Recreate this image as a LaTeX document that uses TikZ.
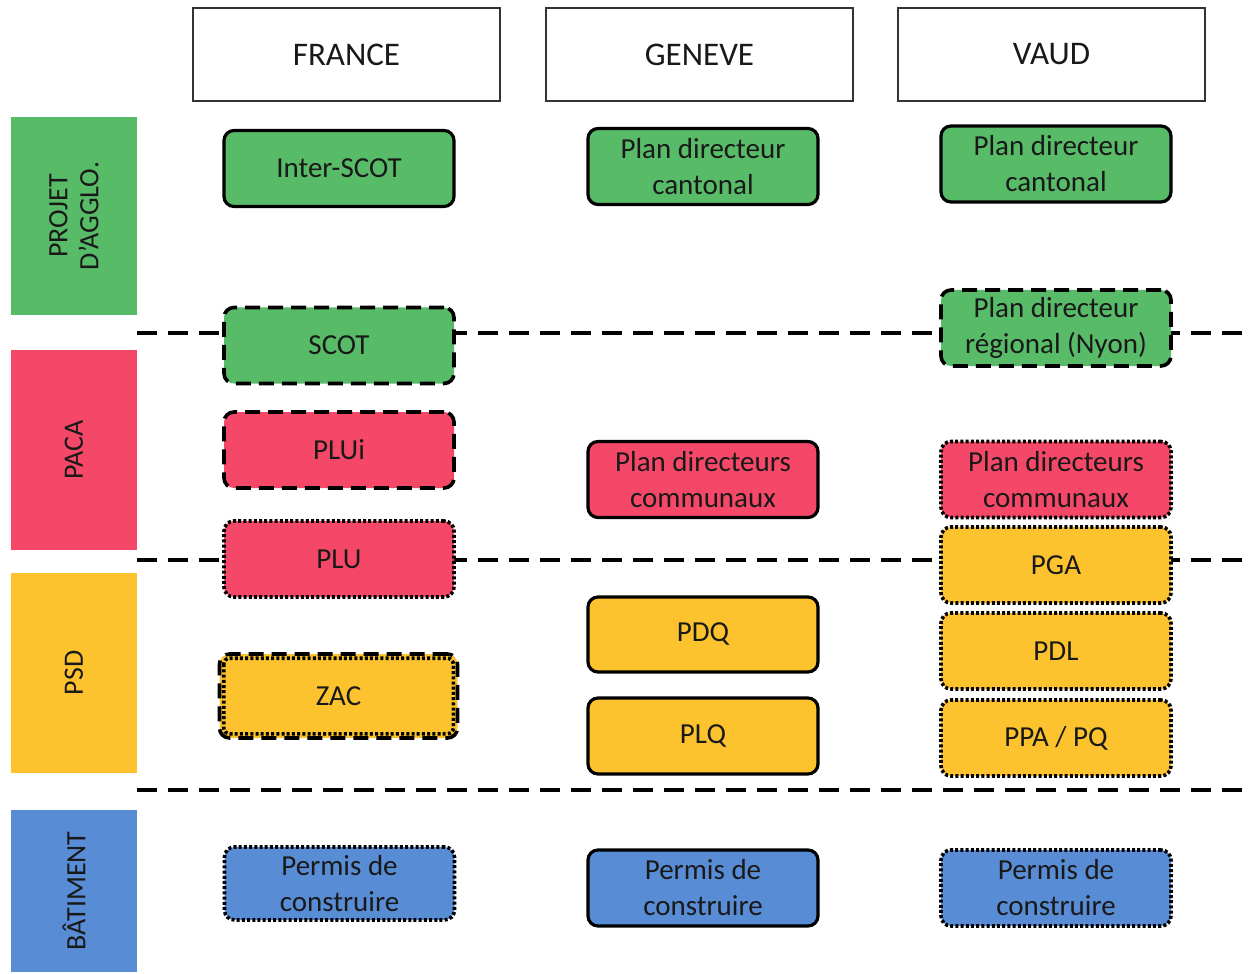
\documentclass[tikz,border=0pt]{standalone}
\usepackage{fontspec}
\setmainfont{Carlito}
\definecolor{cgreen}{RGB}{88,187,104}
\definecolor{cred}{RGB}{245,72,104}
\definecolor{cyellow}{RGB}{253,195,46}
\definecolor{cblue}{RGB}{88,141,214}
\definecolor{ctext}{RGB}{25,25,25}
\tikzset{
  hdr/.style={draw=black!80, line width=0.6pt, fill=white, minimum width=153.5pt, minimum height=46.5pt, font=\fontsize{16.5}{20}\selectfont, text=ctext},
  band/.style={minimum width=63pt, inner sep=0pt, text=ctext, font=\fontsize{14}{15.5}\selectfont, align=center},
  bx/.style={rounded corners=5pt, minimum width=115pt, minimum height=38pt, inner sep=0pt, align=center, text=ctext, font=\fontsize{14.5}{18}\selectfont},
  solidb/.style={draw=black, line width=1.6pt},
  dashb/.style={draw=black, line width=1.8pt, dash pattern=on 7.5pt off 4pt},
  dotb/.style={draw=black, line width=1.8pt, dash pattern=on 1.5pt off 1.1pt},
  sep/.style={draw=black, line width=2pt, dash pattern=on 10pt off 5.5pt},
}
\begin{document}
\begin{tikzpicture}[x=0.5pt,y=-0.5pt]
\useasboundingbox (0,0) rectangle (1255,974);
% separators
\coordinate (s1a) at (137,333); \coordinate (s1b) at (1245,333);
\coordinate (s2a) at (137,560); \coordinate (s2b) at (1245,560);
\coordinate (s3a) at (137,790); \coordinate (s3b) at (1245,790);
\draw[sep] (s1a) -- (s1b);
\draw[sep] (s2a) -- (s2b);
\draw[sep] (s3a) -- (s3b);
% headers
\node[hdr] (hf) at (346.5,54.5) {FRANCE};
\node[hdr] (hg) at (699.5,54.5) {GENEVE};
\node[hdr] (hv) at (1051.5,54.5) {VAUD};
% bands
\node[band, fill=cgreen, minimum height=99pt] (bproj) at (74,216) {};
\node[rotate=90, band] at (bproj.center) {PROJET\\D’AGGLO.};
\node[band, fill=cred, minimum height=100pt] (bpaca) at (74,450) {};
\node[rotate=90, band] at (bpaca.center) {PACA};
\node[band, fill=cyellow, minimum height=100pt] (bpsd) at (74,673) {};
\node[rotate=90, band] at (bpsd.center) {PSD};
\node[band, fill=cblue, minimum height=81pt] (bbat) at (74,891) {};
\node[rotate=90, band] at (bbat.center) {BÂTIMENT};
% France
\node[bx, solidb, fill=cgreen] (f1) at (339,168.5) {Inter-SCOT};
\node[bx, dashb, fill=cgreen] (f2) at (339,345.5) {SCOT};
\node[bx, dashb, fill=cred] (f3) at (339,450) {PLUi};
\node[bx, dotb, fill=cred] (f4) at (339,559) {PLU};
\node[bx, dashb, fill=cyellow, minimum width=119pt, minimum height=42pt] (f5) at (338.5,696) {ZAC};
\draw[dotb, rounded corners=3pt] ([shift={(3pt,-3pt)}]f5.north west) rectangle ([shift={(-3pt,3pt)}]f5.south east);
\node[bx, dotb, fill=cblue, minimum height=36.5pt] (f6) at (339.5,883.5) {Permis de\\construire};
% Geneve
\node[bx, solidb, fill=cgreen] (g1) at (703,166.5) {Plan directeur\\cantonal};
\node[bx, solidb, fill=cred] (g2) at (703,479.5) {Plan directeurs\\communaux};
\node[bx, solidb, fill=cyellow, minimum height=37.5pt] (g3) at (703,634.5) {PDQ};
\node[bx, solidb, fill=cyellow] (g4) at (703,736) {PLQ};
\node[bx, solidb, fill=cblue] (g5) at (703,888) {Permis de\\construire};
% Vaud
\node[bx, solidb, fill=cgreen] (v1) at (1056,164) {Plan directeur\\cantonal};
\node[bx, dashb, fill=cgreen] (v2) at (1056,328) {Plan directeur\\régional (Nyon)};
\node[bx, dotb, fill=cred] (v3) at (1056,479.5) {Plan directeurs\\communaux};
\node[bx, dotb, fill=cyellow] (v4) at (1056,565) {PGA};
\node[bx, dotb, fill=cyellow] (v5) at (1056,651) {PDL};
\node[bx, dotb, fill=cyellow] (v6) at (1056,738) {PPA / PQ};
\node[bx, dotb, fill=cblue] (v7) at (1056,888) {Permis de\\construire};
\end{tikzpicture}
\end{document}
